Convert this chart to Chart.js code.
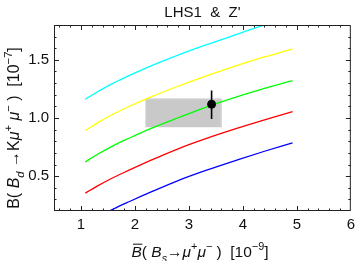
<!DOCTYPE html>
<html>
<head>
<meta charset="utf-8">
<script src="https://cdn.jsdelivr.net/npm/chart.js@4"></script>
<style>
html, body { margin: 0; padding: 0; background: #fff; }
</style>
</head>
<body>
<canvas id="myChart" width="360" height="261"></canvas>
<script>
// valores
const xValues = [1.08, 1.3, 1.6, 1.9, 2.3, 2.8, 3.3, 3.9, 4.4, 4.92];
const cyanValues = [1.161, 1.224, 1.300, 1.367, 1.449, 1.541, 1.626, 1.722, 1.802, 1.883];
const yellowValues = [0.892, 0.956, 1.034, 1.101, 1.182, 1.273, 1.358, 1.453, 1.525, 1.595];
const greenValues = [0.623, 0.686, 0.763, 0.828, 0.910, 1.002, 1.090, 1.183, 1.254, 1.322];
const redValues = [0.354, 0.414, 0.488, 0.553, 0.637, 0.735, 0.820, 0.912, 0.984, 1.055];
const blueValues = [null, 0.14, 0.217, 0.282, 0.364, 0.462, 0.547, 0.640, 0.714, 0.787];

const boxX = [2.2, 3.6];
const boxY = [0.92, 1.165];
const pointX = [3.42];
const pointY = [1.118];
const errorY = [0.992, 1.236];

const xTicks = [1, 2, 3, 4, 5, 6];
const yTicks = [0.5, 1.0, 1.5];
const titulo = "LHS1  &  Z'";

const toXY = (ys) => xValues.map((x, i) => ({ x: x, y: ys[i] }));

const curve = (ys, color) => ({
    data: toXY(ys),
    borderColor: color,
    borderWidth: 1.3,
    pointRadius: 0,
    cubicInterpolationMode: "monotone",
    order: 5
});

const FONT = "'Liberation Sans', Arial, sans-serif";

// marco con ticks hacia dentro
const frameTicks = {
    id: "frameTicks",
    afterDatasetsDraw(chart) {
        const { ctx, chartArea: a, scales: { x, y } } = chart;
        ctx.save();
        ctx.strokeStyle = "#222";
        ctx.lineWidth = 1;
        ctx.strokeRect(a.left + 0.5, a.top + 0.5, a.right - a.left - 1, a.bottom - a.top - 1);
        ctx.beginPath();
        for (let i = 1; i < 28; i++) {
            const v = 0.4 + i * 0.2;
            if (v > 6.001) break;
            const major = Math.abs(v - Math.round(v)) < 0.001;
            const len = major ? 5 : 2.5;
            const px = Math.round(x.getPixelForValue(v)) + 0.5;
            ctx.moveTo(px, a.bottom); ctx.lineTo(px, a.bottom - len);
            ctx.moveTo(px, a.top); ctx.lineTo(px, a.top + len);
        }
        for (let i = 1; i < 16; i++) {
            const v = 0.2 + i * 0.1;
            const major = Math.abs(v * 2 - Math.round(v * 2)) < 0.001;
            const len = major ? 5 : 2.5;
            const py = Math.round(y.getPixelForValue(v)) + 0.5;
            ctx.moveTo(a.left, py); ctx.lineTo(a.left + len, py);
            ctx.moveTo(a.right, py); ctx.lineTo(a.right - len, py);
        }
        ctx.stroke();
        ctx.restore();
    }
};

// texto con subindices y superindices
const drawRich = (ctx, runs, size, cx, base) => {
    let w = 0;
    runs.forEach(r => {
        const s = r.pos ? size * 0.7 : size;
        r.font = (r.it ? "italic " : "") + s + "px " + FONT;
        ctx.font = r.font;
        r.w = ctx.measureText(r.t).width;
        w += r.w;
    });
    let px = cx - w / 2;
    runs.forEach(r => {
        ctx.font = r.font;
        let dy = 0;
        if (r.pos === "sub") dy = size * 0.3;
        if (r.pos === "sup") dy = -size * 0.42;
        ctx.fillText(r.t, px, base + dy);
        if (r.over) {
            ctx.fillRect(px + 1.5, base - size * 0.86, r.w - 1, 1);
        }
        px += r.w;
    });
};

const axisTitles = {
    id: "axisTitles",
    afterDraw(chart) {
        const { ctx, chartArea: a } = chart;
        ctx.save();
        ctx.fillStyle = "#111";
        ctx.textBaseline = "alphabetic";
        ctx.textAlign = "center";
        ctx.font = "15px " + FONT;
        ctx.fillText(titulo, (a.left + a.right) / 2, 17);
        ctx.textAlign = "left";
        drawRich(ctx, [
            { t: "B", it: true, over: true }, { t: "( " }, { t: "B", it: true }, { t: "s", it: true, pos: "sub" },
            { t: "\u2192" }, { t: "\u03bc", it: true }, { t: "+", pos: "sup" }, { t: "\u03bc", it: true },
            { t: "\u2212", pos: "sup" }, { t: " )  [10" }, { t: "\u22129", pos: "sup" }, { t: "]" }
        ], 15.5, 200, 257);
        ctx.translate(19, 128);
        ctx.rotate(-Math.PI / 2);
        drawRich(ctx, [
            { t: "B( " }, { t: "B", it: true }, { t: "d", it: true, pos: "sub" }, { t: " \u2192K" },
            { t: "\u03bc", it: true }, { t: "+", pos: "sup" }, { t: " \u03bc", it: true },
            { t: "\u2212", pos: "sup" }, { t: " )  [10" }, { t: "\u22127", pos: "sup" }, { t: "]" }
        ], 16, 0, 0);
        ctx.restore();
    }
};

Chart.defaults.font.family = FONT;
Chart.defaults.color = "#111";

let grafico = document.getElementById("myChart").getContext("2d");

let myChart = new Chart(grafico, {
    type: "line",
    data: {
        datasets: [
            {
                data: [{ x: pointX[0], y: pointY[0] }],
                backgroundColor: "#000",
                borderColor: "#000",
                pointRadius: 4,
                showLine: false,
                order: 0
            },
            {
                data: [{ x: pointX[0], y: errorY[0] }, { x: pointX[0], y: errorY[1] }],
                borderColor: "#000",
                borderWidth: 1.6,
                pointRadius: 0,
                order: 1
            },
            curve(cyanValues, "#00ffff"),
            curve(yellowValues, "#ffff00"),
            curve(greenValues, "#00ff00"),
            curve(redValues, "#ff0000"),
            curve(blueValues, "#0000ff"),
            {
                data: [
                    { x: boxX[0], y: boxY[0] }, { x: boxX[0], y: boxY[1] },
                    { x: boxX[1], y: boxY[1] }, { x: boxX[1], y: boxY[0] }
                ],
                borderColor: "#d9d9d9",
                borderWidth: 1,
                backgroundColor: "#c9c9c9",
                fill: { value: boxY[0] },
                pointRadius: 0,
                order: 10
            }
        ]
    },
    options: {
        responsive: false,
        animation: false,
        devicePixelRatio: 1,
        layout: { padding: { left: 0, right: 5, top: 25, bottom: 0 } },
        plugins: {
            legend: { display: false },
            tooltip: { enabled: false }
        },
        scales: {
            x: {
                type: "linear",
                min: 0.5,
                max: 6,
                grid: { display: false, drawTicks: false },
                border: { display: false },
                afterBuildTicks: s => { s.ticks = xTicks.map(v => ({ value: v })); },
                afterFit: s => { s.height = 50; },
                ticks: { font: { size: 15 }, padding: 5, maxRotation: 0, callback: v => String(v) }
            },
            y: {
                type: "linear",
                min: 0.2,
                max: 1.8,
                grid: { display: false, drawTicks: false },
                border: { display: false },
                afterBuildTicks: s => { s.ticks = yTicks.map(v => ({ value: v })); },
                afterFit: s => { s.width = 54; },
                ticks: { font: { size: 15 }, padding: 5, callback: v => v.toFixed(1) }
            }
        }
    },
    plugins: [frameTicks, axisTitles]
});
</script>
</body>
</html>
